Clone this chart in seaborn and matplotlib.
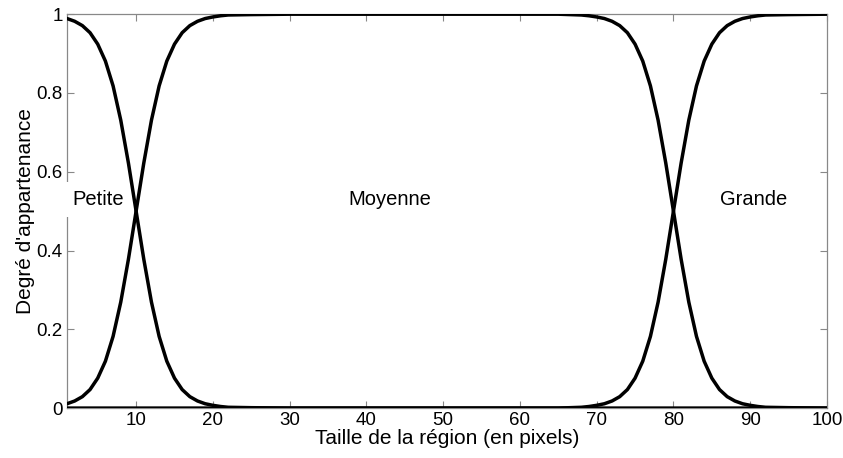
import matplotlib
matplotlib.use("Agg")

import pandas as pd
import matplotlib.pyplot as plt
import seaborn as sns

# Taille de la région (pixels) aux points relevés
taille = [1, 2, 3, 4, 5, 6, 7, 8, 9, 10, 11, 12, 13, 14, 15, 16, 17, 18, 19, 20, 21, 22,
          25, 30, 40, 50, 60, 65,
          68, 69, 70, 71, 72, 73, 74, 75, 76, 77, 78, 79, 80, 81, 82, 83, 84, 85, 86, 87,
          88, 89, 90, 91, 92,
          95, 100]

# Degrés d'appartenance
petite = [0.989, 0.982, 0.971, 0.953, 0.924, 0.881, 0.818, 0.731, 0.622, 0.5, 0.378,
          0.269, 0.182, 0.119, 0.076, 0.047, 0.029, 0.018, 0.011, 0.007, 0.004, 0.002,
          0.001, 0, 0, 0, 0, 0,
          0, 0, 0, 0, 0, 0, 0, 0, 0, 0, 0, 0, 0, 0, 0, 0, 0, 0, 0, 0, 0, 0, 0, 0, 0,
          0, 0]
moyenne = [0.011, 0.018, 0.029, 0.047, 0.076, 0.119, 0.182, 0.269, 0.378, 0.5, 0.622,
           0.731, 0.818, 0.881, 0.924, 0.953, 0.971, 0.982, 0.989, 0.993, 0.996, 0.998,
           0.999, 1, 1, 1, 1, 1,
           0.998, 0.996, 0.993, 0.989, 0.982, 0.971, 0.953, 0.924, 0.881, 0.818, 0.731,
           0.622, 0.5, 0.378, 0.269, 0.182, 0.119, 0.076, 0.047, 0.029, 0.018, 0.011,
           0.007, 0.004, 0.002,
           0.001, 0]
grande = [0, 0, 0, 0, 0, 0, 0, 0, 0, 0, 0, 0, 0, 0, 0, 0, 0, 0, 0, 0, 0, 0,
          0, 0, 0, 0, 0, 0,
          0.002, 0.004, 0.007, 0.011, 0.018, 0.029, 0.047, 0.076, 0.119, 0.182, 0.269,
          0.378, 0.5, 0.622, 0.731, 0.818, 0.881, 0.924, 0.953, 0.971, 0.982, 0.989,
          0.993, 0.996, 0.998,
          0.999, 1]

classes = ["Petite", "Moyenne", "Grande"]
etiquettes_x = [(5.1, 0.53), (43, 0.53), (90.5, 0.53)]  # position des noms de classe
x_ticks = [10, 20, 30, 40, 50, 60, 70, 80, 90, 100]
y_ticks = [0, 0.2, 0.4, 0.6, 0.8, 1]
y_ticklabels = ["0", "0.2", "0.4", "0.6", "0.8", "1"]

sns.set_theme(style="ticks")
plt.rcParams["font.family"] = ["Liberation Sans", "DejaVu Sans"]
plt.rcParams["text.color"] = "black"
plt.rcParams["axes.labelcolor"] = "black"

df = pd.concat([
    pd.DataFrame({"taille": taille, "degre": petite, "classe": "Petite"}),
    pd.DataFrame({"taille": taille, "degre": moyenne, "classe": "Moyenne"}),
    pd.DataFrame({"taille": taille, "degre": grande, "classe": "Grande"}),
])

fig = plt.figure(figsize=(8.43, 4.58), dpi=100)
ax = fig.add_axes([0.0795, 0.109, 0.9015, 0.86])

sns.lineplot(data=df, x="taille", y="degre", hue="classe",
             palette=["black"] * 3, linewidth=2.5, legend=False,
             ax=ax, zorder=3, estimator=None)

ax.set_xlim(1, 100)
ax.set_ylim(0, 1)
ax.set_xticks(x_ticks)
ax.set_yticks(y_ticks)
ax.set_yticklabels(y_ticklabels)
ax.tick_params(direction="in", top=True, right=True, length=5, width=0.8,
               color="#888888", labelsize=13.5, labelcolor="black", pad=3)
for s in ax.spines.values():
    s.set_color("#888888")
    s.set_linewidth(0.9)

ax.set_xlabel("Taille de la région (en pixels)", fontsize=15, labelpad=0, color="black")
ax.set_ylabel("Degré d'appartenance", fontsize=15, labelpad=1, color="black")

for nom, (px, py) in zip(classes, etiquettes_x):
    ax.text(px, py, nom, fontsize=14.5, ha="center", va="center", zorder=2.6,
            clip_on=False, color="black",
            bbox=dict(facecolor="white", edgecolor="none", pad=6))

fig.savefig("out.png", dpi=100)
